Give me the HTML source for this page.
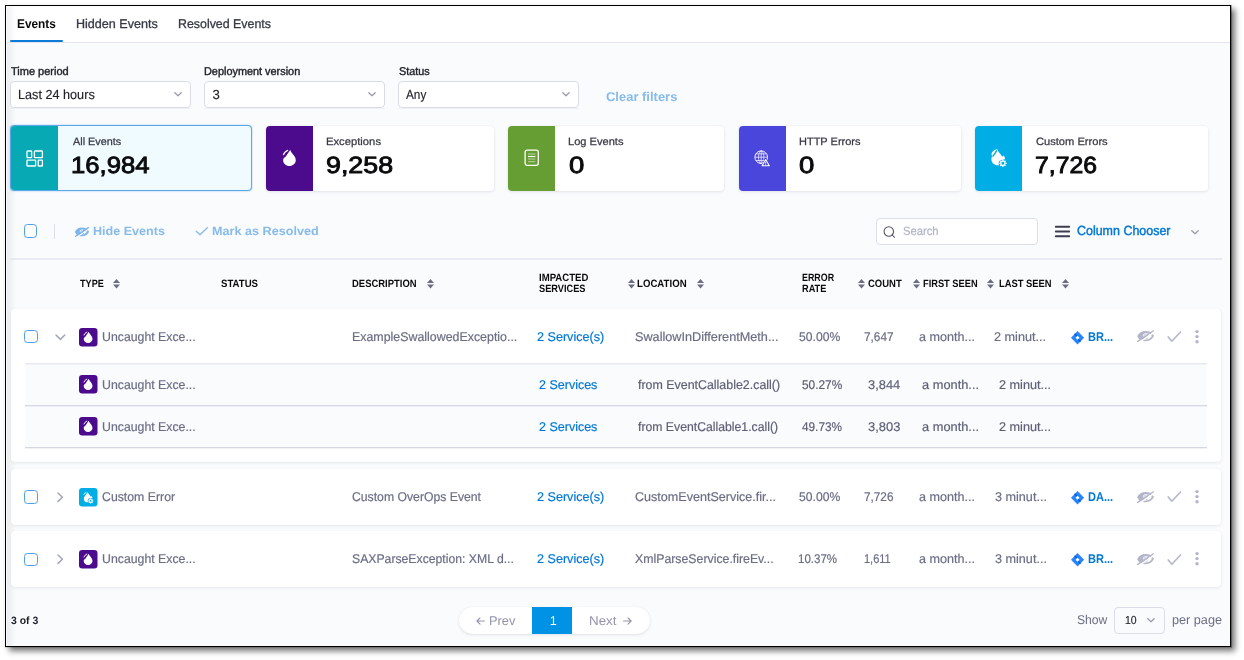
<!DOCTYPE html>
<html><head><meta charset="utf-8"><title>Events</title>
<style>
html,body{margin:0;padding:0;background:#fff;}
body{width:1244px;height:660px;position:relative;overflow:hidden;font-family:"Liberation Sans",sans-serif;text-rendering:geometricPrecision;}
.a{position:absolute;display:block;}
.t{position:absolute;white-space:pre;display:block;transform-origin:0 0;}
svg{overflow:visible;}
#w{position:absolute;left:0;top:0;width:1244px;height:660px;will-change:transform;}
</style></head><body><div id="w">
<div class="a" style="left:5px;top:5px;width:1226px;height:642px;background:#fafbfd;box-shadow:4px 4px 6px rgba(0,0,0,.55);"></div>
<div class="a" style="left:6.5px;top:6.5px;width:9.5px;height:640.0px;background:linear-gradient(90deg,rgba(40,40,60,.07),rgba(40,40,60,0));"></div>
<div class="a" style="left:6.5px;top:6.5px;width:1224.0px;height:35.5px;background:linear-gradient(90deg,#f1f1f4 0,#fff 9px);"></div>
<div class="a" style="left:6.5px;top:42px;width:1224.0px;height:1px;background:#e3e4ee;"></div>
<div class="a" style="left:10px;top:40px;width:52.5px;height:2px;background:#0b7ad9;border-radius:1px;"></div>
<span class="t" style="left:17.14px;top:18px;font-size:12.7px;line-height:12.7px;color:#0b0b0d;transform:scaleX(0.9343);font-weight:bold;">Events</span>
<span class="t" style="left:76.21px;top:18px;font-size:12.7px;line-height:12.7px;color:#383946;transform:scaleX(0.9901);-webkit-text-stroke:0.3px #383946;">Hidden Events</span>
<span class="t" style="left:177.92px;top:18px;font-size:12.7px;line-height:12.7px;color:#383946;transform:scaleX(0.9765);-webkit-text-stroke:0.3px #383946;">Resolved Events</span>
<span class="t" style="left:10.56px;top:67px;font-size:11.3px;line-height:11.3px;color:#22222a;transform:scaleX(0.9734);-webkit-text-stroke:0.4px #22222a;">Time period</span>
<span class="t" style="left:204.46px;top:67px;font-size:11.3px;line-height:11.3px;color:#22222a;transform:scaleX(0.9637);-webkit-text-stroke:0.4px #22222a;">Deployment version</span>
<span class="t" style="left:398.72px;top:67px;font-size:11.3px;line-height:11.3px;color:#22222a;transform:scaleX(0.9566);-webkit-text-stroke:0.4px #22222a;">Status</span>
<div class="a" style="left:10px;top:81px;width:181px;height:27px;background:#fff;border:1px solid #dadbe7;border-radius:4px;box-sizing:border-box;"></div>
<div class="a" style="left:10px;top:108px;width:181px;height:1px;background:#e4e5ef;opacity:.5;border-radius:0 0 4px 4px;"></div>
<span class="t" style="left:17.68px;top:88px;font-size:13.2px;line-height:13.2px;color:#22222a;transform:scaleX(0.9599);-webkit-text-stroke:0.15px #22222a;">Last 24 hours</span>
<svg class="a" style="left:174px;top:91.9px;" width="8" height="4.5" viewBox="0 0 8 4.5"><path d="M0.8 0.8 L4 3.7 L7.2 0.8" fill="none" stroke="#9a9bb3" stroke-width="1.3" stroke-linecap="round" stroke-linejoin="round"/></svg>
<div class="a" style="left:204px;top:81px;width:181px;height:27px;background:#fff;border:1px solid #dadbe7;border-radius:4px;box-sizing:border-box;"></div>
<div class="a" style="left:204px;top:108px;width:181px;height:1px;background:#e4e5ef;opacity:.5;border-radius:0 0 4px 4px;"></div>
<span class="t" style="left:212.40px;top:88px;font-size:13.2px;line-height:13.2px;color:#22222a;-webkit-text-stroke:0.15px #22222a;">3</span>
<svg class="a" style="left:368px;top:91.9px;" width="8" height="4.5" viewBox="0 0 8 4.5"><path d="M0.8 0.8 L4 3.7 L7.2 0.8" fill="none" stroke="#9a9bb3" stroke-width="1.3" stroke-linecap="round" stroke-linejoin="round"/></svg>
<div class="a" style="left:398px;top:81px;width:181px;height:27px;background:#fff;border:1px solid #dadbe7;border-radius:4px;box-sizing:border-box;"></div>
<div class="a" style="left:398px;top:108px;width:181px;height:1px;background:#e4e5ef;opacity:.5;border-radius:0 0 4px 4px;"></div>
<span class="t" style="left:406.20px;top:88px;font-size:13.2px;line-height:13.2px;color:#22222a;transform:scaleX(0.8915);-webkit-text-stroke:0.15px #22222a;">Any</span>
<svg class="a" style="left:562px;top:91.9px;" width="8" height="4.5" viewBox="0 0 8 4.5"><path d="M0.8 0.8 L4 3.7 L7.2 0.8" fill="none" stroke="#9a9bb3" stroke-width="1.3" stroke-linecap="round" stroke-linejoin="round"/></svg>
<span class="t" style="left:606.09px;top:91px;font-size:12.7px;line-height:12.7px;color:#86bbec;transform:scaleX(1.0221);font-weight:bold;">Clear filters</span>
<div class="a" style="left:10px;top:125px;width:242px;height:66px;background:#effbff;border:1px solid #5aa7e9;border-radius:4px;box-sizing:border-box;box-shadow:0 0 1.5px rgba(76,159,232,.8);"></div>
<div class="a" style="left:11px;top:126px;width:47px;height:64px;background:#07a9b5;border-radius:3px 0 0 3px;"></div>
<span class="t" style="left:72.70px;top:137px;font-size:10.6px;line-height:10.6px;color:#383946;transform:scaleX(1.0243);-webkit-text-stroke:0.25px #383946;">All Events</span>
<span class="t" style="left:70.99px;top:154px;font-size:23.5px;line-height:23.5px;color:#0b0b0d;transform:scaleX(1.0921);-webkit-text-stroke:0.9px #0b0b0d;">16,984</span>
<div class="a" style="left:266px;top:126px;width:227.5px;height:64.5px;background:#fff;border-radius:4px;box-shadow:0 0 2px rgba(40,41,61,.06),0 1px 3px rgba(96,97,112,.14);"></div>
<div class="a" style="left:266px;top:126px;width:47px;height:64.5px;background:#4c0b8c;border-radius:4px 0 0 4px;"></div>
<span class="t" style="left:326.34px;top:137px;font-size:10.6px;line-height:10.6px;color:#383946;transform:scaleX(1.0613);-webkit-text-stroke:0.25px #383946;">Exceptions</span>
<span class="t" style="left:326.19px;top:154px;font-size:23.5px;line-height:23.5px;color:#0b0b0d;transform:scaleX(1.1401);-webkit-text-stroke:0.9px #0b0b0d;">9,258</span>
<div class="a" style="left:508px;top:126px;width:216px;height:64.5px;background:#fff;border-radius:4px;box-shadow:0 0 2px rgba(40,41,61,.06),0 1px 3px rgba(96,97,112,.14);"></div>
<div class="a" style="left:508px;top:126px;width:47px;height:64.5px;background:#669e34;border-radius:4px 0 0 4px;"></div>
<span class="t" style="left:568.35px;top:137px;font-size:10.6px;line-height:10.6px;color:#383946;transform:scaleX(1.0467);-webkit-text-stroke:0.25px #383946;">Log Events</span>
<span class="t" style="left:568.68px;top:154px;font-size:23.5px;line-height:23.5px;color:#0b0b0d;transform:scaleX(1.1700);-webkit-text-stroke:0.9px #0b0b0d;">0</span>
<div class="a" style="left:738.5px;top:126px;width:222.5px;height:64.5px;background:#fff;border-radius:4px;box-shadow:0 0 2px rgba(40,41,61,.06),0 1px 3px rgba(96,97,112,.14);"></div>
<div class="a" style="left:738.5px;top:126px;width:47.0px;height:64.5px;background:#4a46dc;border-radius:4px 0 0 4px;"></div>
<span class="t" style="left:798.86px;top:137px;font-size:10.6px;line-height:10.6px;color:#383946;transform:scaleX(1.0376);-webkit-text-stroke:0.25px #383946;">HTTP Errors</span>
<span class="t" style="left:799.18px;top:154px;font-size:23.5px;line-height:23.5px;color:#0b0b0d;transform:scaleX(1.1700);-webkit-text-stroke:0.9px #0b0b0d;">0</span>
<div class="a" style="left:975px;top:126px;width:233px;height:64.5px;background:#fff;border-radius:4px;box-shadow:0 0 2px rgba(40,41,61,.06),0 1px 3px rgba(96,97,112,.14);"></div>
<div class="a" style="left:975px;top:126px;width:47px;height:64.5px;background:#00ade4;border-radius:4px 0 0 4px;"></div>
<span class="t" style="left:1035.68px;top:137px;font-size:10.6px;line-height:10.6px;color:#383946;transform:scaleX(1.0494);-webkit-text-stroke:0.25px #383946;">Custom Errors</span>
<span class="t" style="left:1035.15px;top:154px;font-size:23.5px;line-height:23.5px;color:#0b0b0d;transform:scaleX(1.0543);-webkit-text-stroke:0.9px #0b0b0d;">7,726</span>
<svg class="a" style="left:26px;top:149.7px;" width="17.5" height="17" viewBox="0 0 17.5 17"><g fill="none" stroke="#fff" stroke-width="1.3"><rect x="1" y="1" width="4.6" height="6.6" rx=".6"/><rect x="8.4" y="1" width="8" height="6.6" rx=".6"/><rect x="1" y="10.2" width="8.6" height="5.8" rx=".6"/><rect x="12.2" y="10.2" width="4.2" height="5.8" rx=".6"/></g></svg>
<svg class="a" style="left:282.7px;top:150.2px;overflow:visible;" width="12.9" height="15.95" viewBox="4.7 3.8 8.8 11.1"><path fill="#fff" d="M9.65 3.8 C10.2 5.6 11.6 6.6 12.6 8.2 C13.2 9.2 13.5 10 13.5 10.9 C13.5 13.2 11.5 14.9 9.1 14.9 C6.7 14.9 4.7 13.2 4.7 10.9 C4.7 9.95 5.3 9.2 6.3 8.7 L9.5 4.05 Z"/><path d="M4.95 7.0 Q5.7 5.0 7.8 4.05" fill="none" stroke="#fff" stroke-width=".95" stroke-linecap="round"/></svg>
<svg class="a" style="left:523.6px;top:149.4px;" width="15.4" height="17.4" viewBox="0 0 15.4 17.4"><rect x="1.1" y="1.1" width="13.2" height="15.2" rx="2" fill="none" stroke="#fff" stroke-width="1.3"/><g stroke="#fff" stroke-width="1.2"><path d="M4 5h7.4" opacity=".45"/><path d="M4 7.5h7.4"/><path d="M4 10h7.4" opacity=".45"/><path d="M4 12.6h7.4" opacity=".45"/></g></svg>
<svg class="a" style="left:754.3px;top:149.9px;" width="16.5" height="16.8" viewBox="0 0 16.5 16.8"><g fill="none" stroke="#fff" stroke-width=".95"><circle cx="7.2" cy="7.2" r="6.3"/><g stroke-width=".8" opacity=".9"><ellipse cx="7.2" cy="7.2" rx="2.7" ry="6.3"/><path d="M0.9 7.2h12.6M2 3.9h10.4M2 10.5h10.4M7.2 .9v12.6"/></g></g><path d="M11.7 7.6 L17 16.8 L6.4 16.8 Z" fill="#4a46dc"/><path d="M11.7 9.5 L15.3 15.8 L8.1 15.8 Z" fill="none" stroke="#fff" stroke-width="1.05" stroke-linejoin="round"/><path d="M11.7 11.7v2M11.7 14.3v.7" stroke="#fff" stroke-width=".95"/></svg>
<svg class="a" style="left:990.6px;top:148.9px;" width="16.5" height="18" viewBox="0 0 16.5 18"><path fill="#fff" d="M6.4 0.4 C7 2.6 8.8 4 9.8 5.4 C10.4 6.2 10.7 6.8 10.9 7.4 C11.6 7.5 12.3 7 12.7 6.5 C13.8 7.8 14.2 9.4 13.6 10.5 C11.4 10.2 9 11 8 12.8 C7.4 14 7.6 15.4 8.2 16.2 C4.2 16.8 0.4 14.2 0.4 10.2 C0.4 8.8 0.7 7.8 1.2 7 C-0.7 4.6 2.2 0.8 5.2 0.4 C5.7 0.3 6.1 0.4 6.4 0.4 Z"/><path d="M1.6 7.6 L6 1.3" stroke="#00ade4" stroke-width="1.45" fill="none"/><circle cx="11.9" cy="14.3" r="2.1" fill="none" stroke="#fff" stroke-width="1.3"/><g stroke="#fff" stroke-width="1.25"><path d="M11.9 10.6v1.3M11.9 16.7v1.3M8.2 14.3h1.3M14.3 14.3h1.3M9.3 11.7l.9.9M13.6 16l.9.9M9.3 16.9l.9-.9M13.6 12.6l.9-.9"/></g></svg>
<div class="a" style="left:23.8px;top:224.4px;width:13.599999999999998px;height:13.799999999999983px;border:1px solid #4f9fe6;border-radius:3.5px;box-sizing:border-box;background:#fff;"></div>
<div class="a" style="left:54px;top:223.5px;width:1px;height:15.5px;background:#dcdde8;"></div>
<svg class="a" style="left:75px;top:227px;" width="14" height="9.9" viewBox="0 0 17.2 12.2"><path fill="none" stroke="#7cb5ea" stroke-width="2.4" stroke-linejoin="round" d="M1.2 6.2 C4.2 0.6 12.8 0.6 16 5.9 C12.8 11.8 4.2 11.8 1.2 6.2 Z"/><path fill="#7cb5ea" d="M1.2 6.2 C2.6 3.6 4.6 2.2 7 1.6 L7 10.6 C4.6 10.2 2.6 8.8 1.2 6.2 Z"/><circle cx="8.3" cy="6.1" r="3.1" fill="#7cb5ea"/><ellipse cx="7.9" cy="4.9" rx="2.3" ry="1.45" transform="rotate(-30 7.9 4.9)" fill="#fafbfd"/><path d="M7.1 5.9 a1.5 1.3 0 0 1 1.9 -1.6" stroke="#7cb5ea" stroke-width=".8" fill="none"/><path d="M1.4 12.9 L17.9 1.9" stroke="#fafbfd" stroke-width="1.7" fill="none"/><path d="M0.7 11.4 L16.4 0.8" stroke="#7cb5ea" stroke-width="1.75" stroke-linecap="round" fill="none"/></svg>
<span class="t" style="left:92.61px;top:225px;font-size:12.0px;line-height:12.0px;color:#86bbec;transform:scaleX(1.0469);font-weight:bold;">Hide Events</span>
<svg class="a" style="left:195px;top:226px;" width="14" height="10" viewBox="0 0 14 10"><path d="M1.2 5.3 L5 8.8 L12.3 1.8" fill="none" stroke="#86bbec" stroke-width="1.35" stroke-linecap="round" stroke-linejoin="round"/></svg>
<span class="t" style="left:212.11px;top:225px;font-size:12.0px;line-height:12.0px;color:#86bbec;transform:scaleX(1.0523);font-weight:bold;">Mark as Resolved</span>
<div class="a" style="left:876px;top:218px;width:162px;height:27px;background:#fff;border:1px solid #dddeea;border-radius:4px;box-sizing:border-box;"></div>
<svg class="a" style="left:883.3px;top:225.9px;" width="12.4" height="12.4" viewBox="0 0 12.4 12.4"><circle cx="5.8" cy="5.6" r="4.75" fill="none" stroke="#4f5162" stroke-width="1.05"/><path d="M9.3 9.0 L11.5 11.3" stroke="#4f5162" stroke-width="1.05" stroke-linecap="round"/></svg>
<span class="t" style="left:902.63px;top:226px;font-size:11.9px;line-height:11.9px;color:#b0b3c8;transform:scaleX(0.9437);-webkit-text-stroke:0.2px #b0b3c8;">Search</span>
<svg class="a" style="left:1054px;top:225px;" width="17" height="13" viewBox="0 0 17 13"><path d="M1.8 1.8h13.4M1.8 6.5h13.4M1.8 11.2h13.4" stroke="#3d3e4f" stroke-width="1.9" stroke-linecap="round"/></svg>
<span class="t" style="left:1077.11px;top:224px;font-size:13.2px;line-height:13.2px;color:#0278d5;transform:scaleX(0.9448);-webkit-text-stroke:0.45px #0278d5;">Column Chooser</span>
<svg class="a" style="left:1190.6px;top:229.6px;" width="8" height="4.5" viewBox="0 0 8 4.5"><path d="M0.8 0.8 L4 3.7 L7.2 0.8" fill="none" stroke="#9a9bb3" stroke-width="1.3" stroke-linecap="round" stroke-linejoin="round"/></svg>
<div class="a" style="left:10px;top:258px;width:1211.5px;height:2px;background:#e8e9f1;"></div>
<span class="t" style="left:79.55px;top:279px;font-size:10.6px;line-height:10.6px;color:#0b0b0d;transform:scaleX(0.8588);font-weight:bold;">TYPE</span>
<span class="t" style="left:221.37px;top:279px;font-size:10.6px;line-height:10.6px;color:#0b0b0d;transform:scaleX(0.9065);font-weight:bold;">STATUS</span>
<span class="t" style="left:352.49px;top:279px;font-size:10.6px;line-height:10.6px;color:#0b0b0d;transform:scaleX(0.8919);font-weight:bold;">DESCRIPTION</span>
<span class="t" style="left:538.98px;top:273px;font-size:10.6px;line-height:10.6px;color:#0b0b0d;transform:scaleX(0.9057);font-weight:bold;">IMPACTED</span>
<span class="t" style="left:539.38px;top:284px;font-size:10.6px;line-height:10.6px;color:#0b0b0d;transform:scaleX(0.8701);font-weight:bold;">SERVICES</span>
<span class="t" style="left:637.48px;top:279px;font-size:10.6px;line-height:10.6px;color:#0b0b0d;transform:scaleX(0.9100);font-weight:bold;">LOCATION</span>
<span class="t" style="left:802.02px;top:273px;font-size:10.6px;line-height:10.6px;color:#0b0b0d;transform:scaleX(0.8393);font-weight:bold;">ERROR</span>
<span class="t" style="left:802.01px;top:284px;font-size:10.6px;line-height:10.6px;color:#0b0b0d;transform:scaleX(0.8667);font-weight:bold;">RATE</span>
<span class="t" style="left:868.26px;top:279px;font-size:10.6px;line-height:10.6px;color:#0b0b0d;transform:scaleX(0.8958);font-weight:bold;">COUNT</span>
<span class="t" style="left:923.00px;top:279px;font-size:10.6px;line-height:10.6px;color:#0b0b0d;transform:scaleX(0.8748);font-weight:bold;">FIRST SEEN</span>
<span class="t" style="left:999.49px;top:279px;font-size:10.6px;line-height:10.6px;color:#0b0b0d;transform:scaleX(0.8845);font-weight:bold;">LAST SEEN</span>
<svg class="a" style="left:113px;top:279px;" width="7" height="9.6" viewBox="0 0 7 9.6"><path d="M3.5 0 L7 4 H0 Z" fill="#6b6d85"/><path d="M3.5 9.6 L7 5.6 H0 Z" fill="#6b6d85"/></svg>
<svg class="a" style="left:427px;top:279px;" width="7" height="9.6" viewBox="0 0 7 9.6"><path d="M3.5 0 L7 4 H0 Z" fill="#6b6d85"/><path d="M3.5 9.6 L7 5.6 H0 Z" fill="#6b6d85"/></svg>
<svg class="a" style="left:627.8px;top:279px;" width="7" height="9.6" viewBox="0 0 7 9.6"><path d="M3.5 0 L7 4 H0 Z" fill="#6b6d85"/><path d="M3.5 9.6 L7 5.6 H0 Z" fill="#6b6d85"/></svg>
<svg class="a" style="left:696.5px;top:279px;" width="7" height="9.6" viewBox="0 0 7 9.6"><path d="M3.5 0 L7 4 H0 Z" fill="#6b6d85"/><path d="M3.5 9.6 L7 5.6 H0 Z" fill="#6b6d85"/></svg>
<svg class="a" style="left:858px;top:279px;" width="7" height="9.6" viewBox="0 0 7 9.6"><path d="M3.5 0 L7 4 H0 Z" fill="#6b6d85"/><path d="M3.5 9.6 L7 5.6 H0 Z" fill="#6b6d85"/></svg>
<svg class="a" style="left:912.5px;top:279px;" width="7" height="9.6" viewBox="0 0 7 9.6"><path d="M3.5 0 L7 4 H0 Z" fill="#6b6d85"/><path d="M3.5 9.6 L7 5.6 H0 Z" fill="#6b6d85"/></svg>
<svg class="a" style="left:987px;top:279px;" width="7" height="9.6" viewBox="0 0 7 9.6"><path d="M3.5 0 L7 4 H0 Z" fill="#6b6d85"/><path d="M3.5 9.6 L7 5.6 H0 Z" fill="#6b6d85"/></svg>
<svg class="a" style="left:1061.5px;top:279px;" width="7" height="9.6" viewBox="0 0 7 9.6"><path d="M3.5 0 L7 4 H0 Z" fill="#6b6d85"/><path d="M3.5 9.6 L7 5.6 H0 Z" fill="#6b6d85"/></svg>
<div class="a" style="left:11px;top:309px;width:1210px;height:153px;background:#fff;border-radius:4px;box-shadow:0 0 1px rgba(40,41,61,.05),0 1px 3px rgba(96,97,112,.13);"></div>
<div class="a" style="left:11px;top:469px;width:1210px;height:55.5px;background:#fff;border-radius:4px;box-shadow:0 0 1px rgba(40,41,61,.05),0 1px 3px rgba(96,97,112,.13);"></div>
<div class="a" style="left:11px;top:531px;width:1210px;height:55.5px;background:#fff;border-radius:4px;box-shadow:0 0 1px rgba(40,41,61,.05),0 1px 3px rgba(96,97,112,.13);"></div>
<div class="a" style="left:24.5px;top:363px;width:1182.5px;height:84.5px;background:#fafbfd;"></div>
<div class="a" style="left:24.5px;top:363px;width:1182.5px;height:2px;background:linear-gradient(#e4e5ee,rgba(228,229,238,.25));"></div>
<div class="a" style="left:24.5px;top:405px;width:1182.5px;height:1px;background:#d6d7e3;"></div>
<div class="a" style="left:24.5px;top:406px;width:1182.5px;height:1px;background:#eeeff4;"></div>
<div class="a" style="left:24.5px;top:447px;width:1182.5px;height:1px;background:#d6d7e3;"></div>
<div class="a" style="left:24.5px;top:448px;width:1182.5px;height:1px;background:#f3f3f7;"></div>
<div class="a" style="left:24.2px;top:330.0px;width:13.8px;height:13.200000000000045px;border:1px solid #4f9fe6;border-radius:3.5px;box-sizing:border-box;background:#fff;"></div>
<svg class="a" style="left:54.6px;top:333.5px;" width="10.8" height="6.6" viewBox="0 0 10.8 6.6"><path d="M1 1 L5.4 5.4 L9.8 1" fill="none" stroke="#a3a5bd" stroke-width="1.5" stroke-linecap="round" stroke-linejoin="round"/></svg>
<svg class="a" style="left:78.9px;top:327.6px;" width="18.5" height="18.5" viewBox="0 0 18.5 18.5"><rect x="0" y="0" width="18.5" height="18.5" rx="3.2" fill="#4c0b8c"/><path fill="#fff" d="M9.65 3.8 C10.2 5.6 11.6 6.6 12.6 8.2 C13.2 9.2 13.5 10 13.5 10.9 C13.5 13.2 11.5 14.9 9.1 14.9 C6.7 14.9 4.7 13.2 4.7 10.9 C4.7 9.95 5.3 9.2 6.3 8.7 L9.5 4.05 Z"/><path d="M4.95 7.0 Q5.7 5.0 7.8 4.05" fill="none" stroke="#fff" stroke-width=".95" stroke-linecap="round"/></svg>
<span class="t" style="left:102.29px;top:331px;font-size:12.7px;line-height:12.7px;color:#6b6d85;transform:scaleX(0.9698);-webkit-text-stroke:0.2px #6b6d85;">Uncaught Exce...</span>
<span class="t" style="left:351.62px;top:331px;font-size:12.7px;line-height:12.7px;color:#6b6d85;transform:scaleX(0.9767);-webkit-text-stroke:0.2px #6b6d85;">ExampleSwallowedExceptio...</span>
<span class="t" style="left:536.98px;top:331px;font-size:12.7px;line-height:12.7px;color:#0278d5;transform:scaleX(0.9928);-webkit-text-stroke:0.2px #0278d5;">2 Service(s)</span>
<span class="t" style="left:635.04px;top:331px;font-size:12.7px;line-height:12.7px;color:#6b6d85;transform:scaleX(0.9988);-webkit-text-stroke:0.2px #6b6d85;">SwallowInDifferentMeth...</span>
<span class="t" style="left:798.62px;top:331px;font-size:12.7px;line-height:12.7px;color:#6b6d85;transform:scaleX(0.9581);-webkit-text-stroke:0.2px #6b6d85;">50.00%</span>
<span class="t" style="left:864.02px;top:331px;font-size:12.7px;line-height:12.7px;color:#6b6d85;transform:scaleX(0.9302);-webkit-text-stroke:0.2px #6b6d85;">7,647</span>
<span class="t" style="left:918.60px;top:331px;font-size:12.7px;line-height:12.7px;color:#6b6d85;transform:scaleX(0.9926);-webkit-text-stroke:0.2px #6b6d85;">a month...</span>
<span class="t" style="left:994.48px;top:331px;font-size:12.7px;line-height:12.7px;color:#6b6d85;transform:scaleX(0.9983);-webkit-text-stroke:0.2px #6b6d85;">2 minut...</span>
<svg class="a" style="left:1071.1px;top:330.6px;" width="13.1" height="13.4" viewBox="0 0 13.1 13.4"><path d="M6.55 0 L13.1 6.7 L6.55 13.4 L0 6.7 Z" fill="#2684ff"/><path d="M6.55 4.7 L5.5 5.75 L3.0 3.25 L4.05 2.2 Z" fill="#0052cc" opacity=".8"/><path d="M6.55 8.7 L7.6 7.65 L10.1 10.15 L9.05 11.2 Z" fill="#0052cc" opacity=".8"/><path d="M6.55 4.7 L8.55 6.7 L6.55 8.7 L4.55 6.7 Z" fill="#fff"/></svg>
<span class="t" style="left:1087.89px;top:331px;font-size:12.7px;line-height:12.7px;color:#0278d5;transform:scaleX(0.8689);font-weight:bold;">BR...</span>
<svg class="a" style="left:1137px;top:330.40000000000003px;" width="17.2" height="12.2" viewBox="0 0 17.2 12.2"><path fill="none" stroke="#b4b5ca" stroke-width="1.9" stroke-linejoin="round" d="M1.2 6.2 C4.2 0.6 12.8 0.6 16 5.9 C12.8 11.8 4.2 11.8 1.2 6.2 Z"/><path fill="#b4b5ca" d="M1.2 6.2 C2.6 3.6 4.6 2.2 7 1.6 L7 10.6 C4.6 10.2 2.6 8.8 1.2 6.2 Z"/><circle cx="8.3" cy="6.1" r="3.1" fill="#b4b5ca"/><ellipse cx="7.9" cy="4.9" rx="2.3" ry="1.45" transform="rotate(-30 7.9 4.9)" fill="#fff"/><path d="M7.1 5.9 a1.5 1.3 0 0 1 1.9 -1.6" stroke="#b4b5ca" stroke-width=".8" fill="none"/><path d="M1.4 12.9 L17.9 1.9" stroke="#fff" stroke-width="1.7" fill="none"/><path d="M0.7 11.4 L16.4 0.8" stroke="#b4b5ca" stroke-width="1.35" stroke-linecap="round" fill="none"/></svg>
<svg class="a" style="left:1167px;top:331.0px;" width="14.4" height="11" viewBox="0 0 14.4 11"><path d="M1.2 5.9 L4.8 10.3 L13.5 0.9" fill="none" stroke="#b4b5ca" stroke-width="1.55" stroke-linecap="round" stroke-linejoin="round"/></svg>
<svg class="a" style="left:1194px;top:328.6px" width="6" height="16" viewBox="0 0 6 16"><g fill="#b4b5ca"><circle cx="3" cy="2.6" r="1.7"/><circle cx="3" cy="7.6" r="1.7"/><circle cx="3" cy="12.7" r="1.7"/></g></svg>
<div class="a" style="left:24.2px;top:490.4px;width:13.8px;height:13.200000000000045px;border:1px solid #4f9fe6;border-radius:3.5px;box-sizing:border-box;background:#fff;"></div>
<svg class="a" style="left:56.6px;top:492px;" width="6.6" height="10.4" viewBox="0 0 6.6 10.4"><path d="M1 1 L5.4 5.2 L1 9.4" fill="none" stroke="#a3a5bd" stroke-width="1.5" stroke-linecap="round" stroke-linejoin="round"/></svg>
<svg class="a" style="left:78.9px;top:488.0px;" width="18.5" height="18.5" viewBox="0 0 18.5 18.5"><rect x="0" y="0" width="18.5" height="18.5" rx="3.2" fill="#00ade4"/><path fill="#fff" d="M8.7 4.2 C9.2 5.6 10.4 6.4 11.1 7.6 C11.3 8 11.5 8.3 11.6 8.7 C12 8.6 12.4 8.3 12.7 8 C13.3 8.8 13.5 9.8 13.2 10.4 C12 10.3 10.6 10.8 10 11.9 C9.6 12.7 9.7 13.6 10.1 14.2 C9.4 14.4 8.6 14.4 7.8 14.3 C6 14 4.8 12.6 4.8 10.7 C4.8 9.7 5.2 8.9 5.8 8.3 L8.4 4.4 Z"/><path d="M4.9 6.3 Q5.5 5.1 6.9 4.6" fill="none" stroke="#fff" stroke-width="1" stroke-linecap="round"/><circle cx="11.7" cy="12.9" r="3.0" fill="#00ade4"/><circle cx="11.7" cy="12.9" r="1.45" fill="none" stroke="#fff" stroke-width="1.1"/><g stroke="#fff" stroke-width="1"><path d="M11.7 10.3v1.1M11.7 14.4v1.1M9.1 12.9h1.1M13.2 12.9h1.1M9.85 11.05l.8.8M12.75 13.95l.8.8M9.85 14.75l.8-.8M12.75 11.85l.8-.8"/></g></svg>
<span class="t" style="left:101.99px;top:491px;font-size:12.7px;line-height:12.7px;color:#6b6d85;transform:scaleX(0.9692);-webkit-text-stroke:0.2px #6b6d85;">Custom Error</span>
<span class="t" style="left:352.00px;top:491px;font-size:12.7px;line-height:12.7px;color:#6b6d85;transform:scaleX(0.9627);-webkit-text-stroke:0.2px #6b6d85;">Custom OverOps Event</span>
<span class="t" style="left:536.98px;top:491px;font-size:12.7px;line-height:12.7px;color:#0278d5;transform:scaleX(0.9928);-webkit-text-stroke:0.2px #0278d5;">2 Service(s)</span>
<span class="t" style="left:634.98px;top:491px;font-size:12.7px;line-height:12.7px;color:#6b6d85;transform:scaleX(0.9899);-webkit-text-stroke:0.2px #6b6d85;">CustomEventService.fir...</span>
<span class="t" style="left:798.62px;top:491px;font-size:12.7px;line-height:12.7px;color:#6b6d85;transform:scaleX(0.9581);-webkit-text-stroke:0.2px #6b6d85;">50.00%</span>
<span class="t" style="left:864.02px;top:491px;font-size:12.7px;line-height:12.7px;color:#6b6d85;transform:scaleX(0.9283);-webkit-text-stroke:0.2px #6b6d85;">7,726</span>
<span class="t" style="left:918.60px;top:491px;font-size:12.7px;line-height:12.7px;color:#6b6d85;transform:scaleX(0.9926);-webkit-text-stroke:0.2px #6b6d85;">a month...</span>
<span class="t" style="left:994.66px;top:491px;font-size:12.7px;line-height:12.7px;color:#6b6d85;transform:scaleX(0.9946);-webkit-text-stroke:0.2px #6b6d85;">3 minut...</span>
<svg class="a" style="left:1071.1px;top:491.0px;" width="13.1" height="13.4" viewBox="0 0 13.1 13.4"><path d="M6.55 0 L13.1 6.7 L6.55 13.4 L0 6.7 Z" fill="#2684ff"/><path d="M6.55 4.7 L5.5 5.75 L3.0 3.25 L4.05 2.2 Z" fill="#0052cc" opacity=".8"/><path d="M6.55 8.7 L7.6 7.65 L10.1 10.15 L9.05 11.2 Z" fill="#0052cc" opacity=".8"/><path d="M6.55 4.7 L8.55 6.7 L6.55 8.7 L4.55 6.7 Z" fill="#fff"/></svg>
<span class="t" style="left:1087.89px;top:491px;font-size:12.7px;line-height:12.7px;color:#0278d5;transform:scaleX(0.8689);font-weight:bold;">DA...</span>
<svg class="a" style="left:1137px;top:490.8px;" width="17.2" height="12.2" viewBox="0 0 17.2 12.2"><path fill="none" stroke="#b4b5ca" stroke-width="1.9" stroke-linejoin="round" d="M1.2 6.2 C4.2 0.6 12.8 0.6 16 5.9 C12.8 11.8 4.2 11.8 1.2 6.2 Z"/><path fill="#b4b5ca" d="M1.2 6.2 C2.6 3.6 4.6 2.2 7 1.6 L7 10.6 C4.6 10.2 2.6 8.8 1.2 6.2 Z"/><circle cx="8.3" cy="6.1" r="3.1" fill="#b4b5ca"/><ellipse cx="7.9" cy="4.9" rx="2.3" ry="1.45" transform="rotate(-30 7.9 4.9)" fill="#fff"/><path d="M7.1 5.9 a1.5 1.3 0 0 1 1.9 -1.6" stroke="#b4b5ca" stroke-width=".8" fill="none"/><path d="M1.4 12.9 L17.9 1.9" stroke="#fff" stroke-width="1.7" fill="none"/><path d="M0.7 11.4 L16.4 0.8" stroke="#b4b5ca" stroke-width="1.35" stroke-linecap="round" fill="none"/></svg>
<svg class="a" style="left:1167px;top:491.4px;" width="14.4" height="11" viewBox="0 0 14.4 11"><path d="M1.2 5.9 L4.8 10.3 L13.5 0.9" fill="none" stroke="#b4b5ca" stroke-width="1.55" stroke-linecap="round" stroke-linejoin="round"/></svg>
<svg class="a" style="left:1194px;top:489px" width="6" height="16" viewBox="0 0 6 16"><g fill="#b4b5ca"><circle cx="3" cy="2.6" r="1.7"/><circle cx="3" cy="7.6" r="1.7"/><circle cx="3" cy="12.7" r="1.7"/></g></svg>
<div class="a" style="left:24.2px;top:552.6999999999999px;width:13.8px;height:13.200000000000045px;border:1px solid #4f9fe6;border-radius:3.5px;box-sizing:border-box;background:#fff;"></div>
<svg class="a" style="left:56.6px;top:554.3px;" width="6.6" height="10.4" viewBox="0 0 6.6 10.4"><path d="M1 1 L5.4 5.2 L1 9.4" fill="none" stroke="#a3a5bd" stroke-width="1.5" stroke-linecap="round" stroke-linejoin="round"/></svg>
<svg class="a" style="left:78.9px;top:550.3px;" width="18.5" height="18.5" viewBox="0 0 18.5 18.5"><rect x="0" y="0" width="18.5" height="18.5" rx="3.2" fill="#4c0b8c"/><path fill="#fff" d="M9.65 3.8 C10.2 5.6 11.6 6.6 12.6 8.2 C13.2 9.2 13.5 10 13.5 10.9 C13.5 13.2 11.5 14.9 9.1 14.9 C6.7 14.9 4.7 13.2 4.7 10.9 C4.7 9.95 5.3 9.2 6.3 8.7 L9.5 4.05 Z"/><path d="M4.95 7.0 Q5.7 5.0 7.8 4.05" fill="none" stroke="#fff" stroke-width=".95" stroke-linecap="round"/></svg>
<span class="t" style="left:102.29px;top:553px;font-size:12.7px;line-height:12.7px;color:#6b6d85;transform:scaleX(0.9698);-webkit-text-stroke:0.2px #6b6d85;">Uncaught Exce...</span>
<span class="t" style="left:352.06px;top:553px;font-size:12.7px;line-height:12.7px;color:#6b6d85;transform:scaleX(0.9631);-webkit-text-stroke:0.2px #6b6d85;">SAXParseException: XML d...</span>
<span class="t" style="left:536.98px;top:553px;font-size:12.7px;line-height:12.7px;color:#0278d5;transform:scaleX(0.9928);-webkit-text-stroke:0.2px #0278d5;">2 Service(s)</span>
<span class="t" style="left:635.36px;top:553px;font-size:12.7px;line-height:12.7px;color:#6b6d85;transform:scaleX(0.9701);-webkit-text-stroke:0.2px #6b6d85;">XmlParseService.fireEv...</span>
<span class="t" style="left:798.25px;top:553px;font-size:12.7px;line-height:12.7px;color:#6b6d85;transform:scaleX(0.9083);-webkit-text-stroke:0.2px #6b6d85;">10.37%</span>
<span class="t" style="left:863.79px;top:553px;font-size:12.7px;line-height:12.7px;color:#6b6d85;transform:scaleX(0.8675);-webkit-text-stroke:0.2px #6b6d85;">1,611</span>
<span class="t" style="left:918.60px;top:553px;font-size:12.7px;line-height:12.7px;color:#6b6d85;transform:scaleX(0.9926);-webkit-text-stroke:0.2px #6b6d85;">a month...</span>
<span class="t" style="left:994.66px;top:553px;font-size:12.7px;line-height:12.7px;color:#6b6d85;transform:scaleX(0.9946);-webkit-text-stroke:0.2px #6b6d85;">3 minut...</span>
<svg class="a" style="left:1071.1px;top:553.3px;" width="13.1" height="13.4" viewBox="0 0 13.1 13.4"><path d="M6.55 0 L13.1 6.7 L6.55 13.4 L0 6.7 Z" fill="#2684ff"/><path d="M6.55 4.7 L5.5 5.75 L3.0 3.25 L4.05 2.2 Z" fill="#0052cc" opacity=".8"/><path d="M6.55 8.7 L7.6 7.65 L10.1 10.15 L9.05 11.2 Z" fill="#0052cc" opacity=".8"/><path d="M6.55 4.7 L8.55 6.7 L6.55 8.7 L4.55 6.7 Z" fill="#fff"/></svg>
<span class="t" style="left:1087.89px;top:553px;font-size:12.7px;line-height:12.7px;color:#0278d5;transform:scaleX(0.8689);font-weight:bold;">BR...</span>
<svg class="a" style="left:1137px;top:553.0999999999999px;" width="17.2" height="12.2" viewBox="0 0 17.2 12.2"><path fill="none" stroke="#b4b5ca" stroke-width="1.9" stroke-linejoin="round" d="M1.2 6.2 C4.2 0.6 12.8 0.6 16 5.9 C12.8 11.8 4.2 11.8 1.2 6.2 Z"/><path fill="#b4b5ca" d="M1.2 6.2 C2.6 3.6 4.6 2.2 7 1.6 L7 10.6 C4.6 10.2 2.6 8.8 1.2 6.2 Z"/><circle cx="8.3" cy="6.1" r="3.1" fill="#b4b5ca"/><ellipse cx="7.9" cy="4.9" rx="2.3" ry="1.45" transform="rotate(-30 7.9 4.9)" fill="#fff"/><path d="M7.1 5.9 a1.5 1.3 0 0 1 1.9 -1.6" stroke="#b4b5ca" stroke-width=".8" fill="none"/><path d="M1.4 12.9 L17.9 1.9" stroke="#fff" stroke-width="1.7" fill="none"/><path d="M0.7 11.4 L16.4 0.8" stroke="#b4b5ca" stroke-width="1.35" stroke-linecap="round" fill="none"/></svg>
<svg class="a" style="left:1167px;top:553.6999999999999px;" width="14.4" height="11" viewBox="0 0 14.4 11"><path d="M1.2 5.9 L4.8 10.3 L13.5 0.9" fill="none" stroke="#b4b5ca" stroke-width="1.55" stroke-linecap="round" stroke-linejoin="round"/></svg>
<svg class="a" style="left:1194px;top:551.3px" width="6" height="16" viewBox="0 0 6 16"><g fill="#b4b5ca"><circle cx="3" cy="2.6" r="1.7"/><circle cx="3" cy="7.6" r="1.7"/><circle cx="3" cy="12.7" r="1.7"/></g></svg>
<svg class="a" style="left:78.9px;top:375.20000000000005px;" width="18.5" height="18.5" viewBox="0 0 18.5 18.5"><rect x="0" y="0" width="18.5" height="18.5" rx="3.2" fill="#4c0b8c"/><path fill="#fff" d="M9.65 3.8 C10.2 5.6 11.6 6.6 12.6 8.2 C13.2 9.2 13.5 10 13.5 10.9 C13.5 13.2 11.5 14.9 9.1 14.9 C6.7 14.9 4.7 13.2 4.7 10.9 C4.7 9.95 5.3 9.2 6.3 8.7 L9.5 4.05 Z"/><path d="M4.95 7.0 Q5.7 5.0 7.8 4.05" fill="none" stroke="#fff" stroke-width=".95" stroke-linecap="round"/></svg>
<span class="t" style="left:102.29px;top:379px;font-size:12.7px;line-height:12.7px;color:#6b6d85;transform:scaleX(0.9698);-webkit-text-stroke:0.2px #6b6d85;">Uncaught Exce...</span>
<span class="t" style="left:538.98px;top:379px;font-size:12.7px;line-height:12.7px;color:#0278d5;transform:scaleX(0.9855);-webkit-text-stroke:0.2px #0278d5;">2 Services</span>
<span class="t" style="left:638.48px;top:379px;font-size:12.7px;line-height:12.7px;color:#5d5f75;transform:scaleX(0.9780);-webkit-text-stroke:0.2px #5d5f75;">from EventCallable2.call()</span>
<span class="t" style="left:802.13px;top:379px;font-size:12.7px;line-height:12.7px;color:#5d5f75;transform:scaleX(0.9344);-webkit-text-stroke:0.2px #5d5f75;">50.27%</span>
<span class="t" style="left:868.16px;top:379px;font-size:12.7px;line-height:12.7px;color:#5d5f75;transform:scaleX(1.0140);-webkit-text-stroke:0.2px #5d5f75;">3,844</span>
<span class="t" style="left:922.09px;top:379px;font-size:12.7px;line-height:12.7px;color:#5d5f75;transform:scaleX(1.0109);-webkit-text-stroke:0.2px #5d5f75;">a month...</span>
<span class="t" style="left:998.98px;top:379px;font-size:12.7px;line-height:12.7px;color:#5d5f75;transform:scaleX(0.9983);-webkit-text-stroke:0.2px #5d5f75;">2 minut...</span>
<svg class="a" style="left:78.9px;top:417.20000000000005px;" width="18.5" height="18.5" viewBox="0 0 18.5 18.5"><rect x="0" y="0" width="18.5" height="18.5" rx="3.2" fill="#4c0b8c"/><path fill="#fff" d="M9.65 3.8 C10.2 5.6 11.6 6.6 12.6 8.2 C13.2 9.2 13.5 10 13.5 10.9 C13.5 13.2 11.5 14.9 9.1 14.9 C6.7 14.9 4.7 13.2 4.7 10.9 C4.7 9.95 5.3 9.2 6.3 8.7 L9.5 4.05 Z"/><path d="M4.95 7.0 Q5.7 5.0 7.8 4.05" fill="none" stroke="#fff" stroke-width=".95" stroke-linecap="round"/></svg>
<span class="t" style="left:102.29px;top:421px;font-size:12.7px;line-height:12.7px;color:#6b6d85;transform:scaleX(0.9698);-webkit-text-stroke:0.2px #6b6d85;">Uncaught Exce...</span>
<span class="t" style="left:538.98px;top:421px;font-size:12.7px;line-height:12.7px;color:#0278d5;transform:scaleX(0.9855);-webkit-text-stroke:0.2px #0278d5;">2 Services</span>
<span class="t" style="left:638.48px;top:421px;font-size:12.7px;line-height:12.7px;color:#5d5f75;transform:scaleX(0.9642);-webkit-text-stroke:0.2px #5d5f75;">from EventCallable1.call()</span>
<span class="t" style="left:802.37px;top:421px;font-size:12.7px;line-height:12.7px;color:#5d5f75;transform:scaleX(0.9289);-webkit-text-stroke:0.2px #5d5f75;">49.73%</span>
<span class="t" style="left:868.15px;top:421px;font-size:12.7px;line-height:12.7px;color:#5d5f75;transform:scaleX(1.0201);-webkit-text-stroke:0.2px #5d5f75;">3,803</span>
<span class="t" style="left:922.09px;top:421px;font-size:12.7px;line-height:12.7px;color:#5d5f75;transform:scaleX(1.0109);-webkit-text-stroke:0.2px #5d5f75;">a month...</span>
<span class="t" style="left:998.98px;top:421px;font-size:12.7px;line-height:12.7px;color:#5d5f75;transform:scaleX(0.9983);-webkit-text-stroke:0.2px #5d5f75;">2 minut...</span>
<span class="t" style="left:11.12px;top:616px;font-size:10.6px;line-height:10.6px;color:#1c1c28;transform:scaleX(0.9844);font-weight:bold;">3 of 3</span>
<div class="a" style="left:459px;top:607px;width:190.5px;height:27px;background:#fff;border-radius:14px;box-shadow:0 0 1px rgba(40,41,61,.06),0 1px 3px rgba(96,97,112,.16);"></div>
<div class="a" style="left:532px;top:607px;width:40px;height:27px;background:#0092e4;"></div>
<svg class="a" style="left:476.3px;top:616.8px;" width="9" height="8" viewBox="0 0 9 8"><path d="M8.4 4 H1 M4 .8 L.9 4 L4 7.2" fill="none" stroke="#9293ab" stroke-width="1.1" stroke-linecap="round" stroke-linejoin="round"/></svg>
<span class="t" style="left:489.09px;top:615px;font-size:12.7px;line-height:12.7px;color:#9293ab;transform:scaleX(1.0125);">Prev</span>
<span class="t" style="left:549.80px;top:615px;font-size:12.7px;line-height:12.7px;color:#fff;">1</span>
<span class="t" style="left:588.54px;top:615px;font-size:12.7px;line-height:12.7px;color:#9293ab;transform:scaleX(1.0550);">Next</span>
<svg class="a" style="left:623px;top:616.8px;" width="9" height="8" viewBox="0 0 9 8"><path d="M.6 4 H8 M5 .8 L8.1 4 L5 7.2" fill="none" stroke="#9293ab" stroke-width="1.1" stroke-linecap="round" stroke-linejoin="round"/></svg>
<span class="t" style="left:1076.86px;top:614px;font-size:12.7px;line-height:12.7px;color:#6b6d85;transform:scaleX(0.9559);">Show</span>
<div class="a" style="left:1114.4px;top:607px;width:50.19999999999982px;height:26.600000000000023px;border:1px solid #dcdde8;border-radius:4px;box-sizing:border-box;background:#fafbfd;"></div>
<span class="t" style="left:1125.21px;top:615px;font-size:11.6px;line-height:11.6px;color:#22222a;transform:scaleX(0.9052);-webkit-text-stroke:0.15px #22222a;">10</span>
<svg class="a" style="left:1146.8px;top:618.2px;" width="8" height="4.5" viewBox="0 0 8 4.5"><path d="M0.8 0.8 L4 3.7 L7.2 0.8" fill="none" stroke="#9a9bb3" stroke-width="1.3" stroke-linecap="round" stroke-linejoin="round"/></svg>
<span class="t" style="left:1171.79px;top:614px;font-size:12.7px;line-height:12.7px;color:#6b6d85;transform:scaleX(0.9980);">per page</span>
<div class="a" style="left:5px;top:5px;width:1226px;height:642px;border:1px solid #000;box-sizing:border-box;"></div>
<div class="a" style="left:1231px;top:5px;width:1px;height:643px;background:rgba(0,0,0,.3);"></div>
<div class="a" style="left:5px;top:647px;width:1226px;height:1px;background:rgba(0,0,0,.12);"></div>
</div></body></html>
